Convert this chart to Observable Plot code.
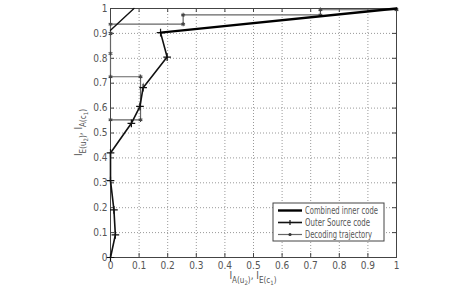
<!DOCTYPE html>
<html><head><meta charset="utf-8">
<script src="https://cdn.jsdelivr.net/npm/d3@7"></script>
<script src="https://cdn.jsdelivr.net/npm/@observablehq/plot@0.6"></script>
<style>
body{margin:0;background:#fff;}
#chart svg{font-family:"Liberation Sans Narrow","Arial Narrow","DejaVu Sans Condensed","Liberation Sans",Arial,sans-serif;}
</style></head><body><div id="chart"></div>
<script>
// tick values and labels
const tickValues = [0,0.1,0.2,0.3,0.4,0.5,0.6,0.7,0.8,0.9,1];
const tickLabels = ["0","0.1","0.2","0.3","0.4","0.5","0.6","0.7","0.8","0.9","1"];
// Outer source code (+ markers)
const outerX = [0,0.017,0.012,0,0,0.073,0.103,0.114,0.198,0.175];
const outerY = [0,0.091,0.191,0.309,0.42,0.539,0.607,0.682,0.805,0.903];
// Combined inner code (thick)
const innerX = [0.175,1];
const innerY = [0.903,1];
const innerTopX = [0,0.082];
const innerTopY = [0.913,1];
// Decoding trajectory
const trajX = [0,0.105,0.105,0,0,0,0,0.254,0.254,0.734,0.734,1];
const trajY = [0.553,0.553,0.726,0.726,0.819,0.9,0.937,0.937,0.974,0.974,0.995,0.995];
// legend entries
const legendLabels = ["Combined inner code","Outer Source code","Decoding trajectory"];

const W = 467, H = 286;
const mL = 110, mR = 71, mT = 8, mB = 29;
const ph = H - mT - mB, pw = W - mL - mR;

const outer = outerX.map((x,i)=>({x, y: outerY[i]}));
const inner = innerX.map((x,i)=>({x, y: innerY[i]}));
const innerTop = innerTopX.map((x,i)=>({x, y: innerTopY[i]}));
const traj = trajX.map((x,i)=>({x, y: trajY[i]}));
const fmt = d => tickLabels[tickValues.findIndex(v => Math.abs(v - d) < 1e-9)];

const plot = Plot.plot({
  width: W, height: H,
  marginLeft: mL, marginRight: mR, marginTop: mT, marginBottom: mB,
  style: {background: "#fff", fontSize: "10px", color: "#444"},
  x: {domain: [0,1], label: null},
  y: {domain: [0,1], label: null},
  marks: [
    Plot.gridX(tickValues, {stroke: "#999", strokeOpacity: 1, strokeDasharray: "1,2"}),
    Plot.gridY(tickValues, {stroke: "#999", strokeOpacity: 1, strokeDasharray: "1,2"}),
    Plot.tickX(tickValues, {x: d=>d, stroke: "#444", insetTop: ph-4}),
    Plot.tickX(tickValues, {x: d=>d, stroke: "#444", insetBottom: ph-4}),
    Plot.tickY(tickValues, {y: d=>d, stroke: "#444", insetRight: pw-4}),
    Plot.tickY(tickValues, {y: d=>d, stroke: "#444", insetLeft: pw-4}),
    Plot.frame({stroke: "#444", strokeWidth: 1}),
    Plot.axisX(tickValues, {tickSize: 0, tickPadding: 4, fill: "#555", tickFormat: fmt, label: null}),
    Plot.axisY(tickValues, {tickSize: 0, tickPadding: 3, fill: "#555", tickFormat: fmt, label: null}),
    Plot.line(traj, {x: "x", y: "y", stroke: "#666", strokeWidth: 1.2}),
    Plot.dot(traj, {x: "x", y: "y", symbol: "asterisk", r: 2, stroke: "#444", strokeWidth: 1.1}),
    Plot.line(outer, {x: "x", y: "y", stroke: "#111", strokeWidth: 1.6}),
    Plot.dot(outer, {x: "x", y: "y", symbol: "plus", r: 2.6, stroke: "#111", strokeWidth: 1.2}),
    Plot.line(inner, {x: "x", y: "y", stroke: "#000", strokeWidth: 2.4}),
    Plot.line(innerTop, {x: "x", y: "y", stroke: "#111", strokeWidth: 1.4})
  ]
});
document.getElementById("chart").appendChild(plot);

const svg = d3.select(plot);
const xs = plot.scale("x"), ys = plot.scale("y");
const cx = (xs.apply(0)+xs.apply(1))/2, cy = (ys.apply(0)+ys.apply(1))/2;

// x axis label with subscripts
const xl = svg.append("text").attr("x", cx).attr("y", 279).attr("text-anchor","middle")
  .attr("fill","#555").attr("font-size", 10);
xl.append("tspan").text("I");
xl.append("tspan").attr("dy", 4).attr("font-size", 8).text("A(u");
xl.append("tspan").attr("dy", 2).attr("font-size", 6).text("2");
xl.append("tspan").attr("dy", -2).attr("font-size", 8).text(")");
xl.append("tspan").attr("dy", -4).text(", I");
xl.append("tspan").attr("dy", 4).attr("font-size", 8).text("E(c");
xl.append("tspan").attr("dy", 2).attr("font-size", 6).text("1");
xl.append("tspan").attr("dy", -2).attr("font-size", 8).text(")");

// y axis label with subscripts
const yl = svg.append("text").attr("transform", `translate(82,${cy}) rotate(-90)`)
  .attr("text-anchor","middle").attr("fill","#555").attr("font-size", 10);
yl.append("tspan").text("I");
yl.append("tspan").attr("dy", 4).attr("font-size", 8).text("E(u");
yl.append("tspan").attr("dy", 2).attr("font-size", 6).text("2");
yl.append("tspan").attr("dy", -2).attr("font-size", 8).text(")");
yl.append("tspan").attr("dy", -4).text(", I");
yl.append("tspan").attr("dy", 4).attr("font-size", 8).text("A(c");
yl.append("tspan").attr("dy", 2).attr("font-size", 6).text("1");
yl.append("tspan").attr("dy", -2).attr("font-size", 8).text(")");

// legend box
const lg = svg.append("g").attr("text-anchor", "start");
const lx = 273, ly = 203, lw = 111, lh = 38;
lg.append("rect").attr("x", lx).attr("y", ly).attr("width", lw).attr("height", lh)
  .attr("fill", "#fff").attr("stroke", "#444");
const rowY = [210.5, 222.5, 234.5];
const textLen = [73, 65, 67];
const styles = [
  {stroke:"#000", w:2.4, sym:null},
  {stroke:"#111", w:1.6, sym:"plus"},
  {stroke:"#666", w:1.2, sym:"star"}
];
legendLabels.forEach((t,i)=>{
  const s = styles[i];
  lg.append("line").attr("x1", lx+5).attr("x2", lx+29).attr("y1", rowY[i]).attr("y2", rowY[i])
    .attr("stroke", s.stroke).attr("stroke-width", s.w);
  if (s.sym === "plus") {
    lg.append("path").attr("d", "M-2.6,0H2.6M0,-2.6V2.6")
      .attr("transform", `translate(${lx+17},${rowY[i]})`).attr("fill","none").attr("stroke","#111").attr("stroke-width",1.2);
  } else if (s.sym === "star") {
    lg.append("circle").attr("cx", lx+17).attr("cy", rowY[i]).attr("r", 1.6).attr("fill", "#333");
  }
  lg.append("text").attr("x", lx+32).attr("y", rowY[i]).attr("dy","0.35em").attr("text-anchor","start")
    .attr("font-size", 10).attr("fill","#555")
    .attr("textLength", textLen[i]).attr("lengthAdjust", "spacingAndGlyphs").text(t);
});
</script></body></html>
